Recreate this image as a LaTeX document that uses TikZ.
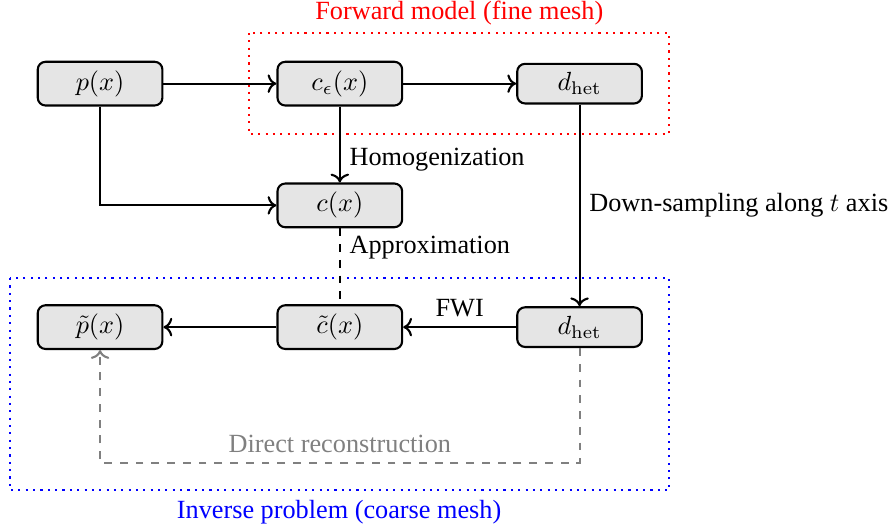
\documentclass[tikz,border=0pt]{standalone}
\usepackage[no-math]{fontspec}
\setmainfont{Liberation Serif}
\usetikzlibrary{arrows.meta,positioning}

\begin{document}
\begin{tikzpicture}[quantity/.style={rectangle, rounded corners=3pt, draw=black, thick, fill=gray!20, minimum width=1.67cm}, arrow/.style={->, thick}, region/.style={dotted, thick}]
\useasboundingbox (0,0) rectangle (11.97,-7.11);
% fine mesh (top row) and coarse mesh (bottom row)
\node[quantity] (p) at (1.34,-1.12) {$p(x)$};
\node[quantity] (ceps) at (4.55,-1.12) {$c_\epsilon(x)$};
\node[quantity] (dfine) at (7.76,-1.12) {$d_{\mathrm{het}}$};
\node[quantity] (c) at (4.55,-2.75) {$c(x)$};
\node[quantity] (ptil) at (1.34,-4.38) {$\tilde{p}(x)$};
\node[quantity] (ctil) at (4.55,-4.38) {$\tilde{c}(x)$};
\node[quantity] (dcoarse) at (7.76,-4.38) {$d_{\mathrm{het}}$};
% the two regions
\draw[region, red] (3.335,-0.442) rectangle (8.96,-1.795);
\node[red] (fwdtitle) at (6.15,-0.17) {Forward model (fine mesh)};
\draw[region, blue] (0.134,-3.723) rectangle (8.96,-6.563);
\node[blue] (invtitle) at (4.54,-6.86) {Inverse problem (coarse mesh)};
% connectors
\draw[arrow] (p) -- (ceps); \draw[arrow] (ceps) -- (dfine); \draw[arrow] (p) |- (c);
\draw[arrow] (ceps) -- node[pos=0.7, right] {Homogenization} (c);
\draw[thick, dashed] (c) -- node[near start, right] {Approximation} (ctil);
\draw[arrow] (dfine) -- node[right] {Down-sampling along $t$ axis} (dcoarse);
\draw[arrow] (dcoarse) -- node[above] {FWI} (ctil); \draw[arrow] (ctil) -- (ptil);
\draw[arrow, gray, dashed] (dcoarse) -- ++(0,-1.82) -| node[pos=0.25, above] {Direct reconstruction} (ptil);
\end{tikzpicture}
\end{document}
